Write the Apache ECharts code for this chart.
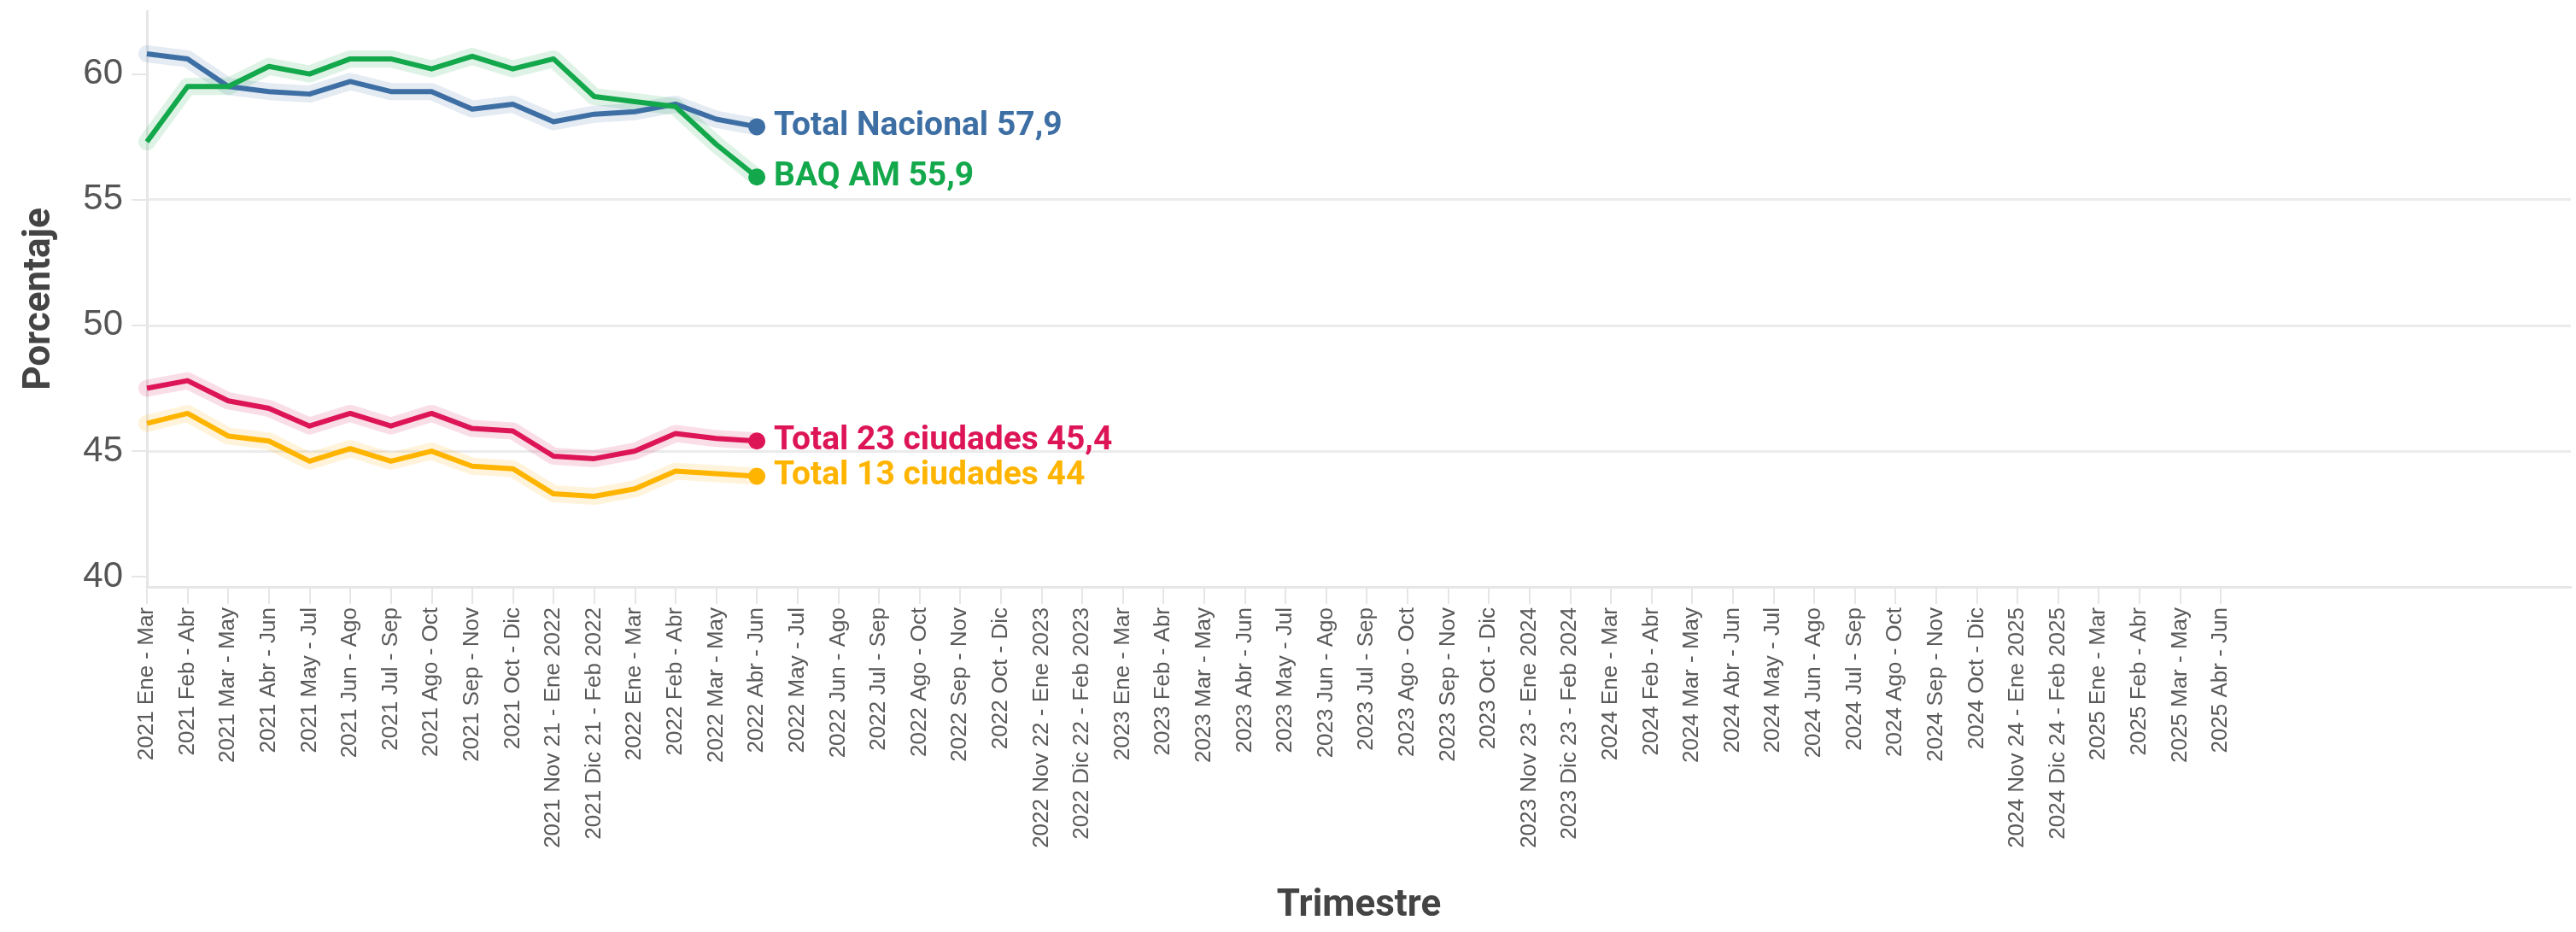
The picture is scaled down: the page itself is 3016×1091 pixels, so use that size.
<!DOCTYPE html>
<html>
<head>
<meta charset="utf-8">
<script src="https://cdn.jsdelivr.net/npm/echarts@6/dist/echarts.min.js"></script>
<style>
    html, body { margin: 0; padding: 0; background: #fff; }
    #main { width: 3016px; height: 1091px; }
</style>
</head>
<body>
<div id="main"></div>
<script>
// 类目：滚动三个月
var trimestres = [
    '2021 Ene - Mar', '2021 Feb - Abr', '2021 Mar - May', '2021 Abr - Jun', '2021 May - Jul', '2021 Jun - Ago',
    '2021 Jul - Sep', '2021 Ago - Oct', '2021 Sep - Nov', '2021 Oct - Dic', '2021 Nov 21 - Ene 2022', '2021 Dic 21 - Feb 2022',
    '2022 Ene - Mar', '2022 Feb - Abr', '2022 Mar - May', '2022 Abr - Jun', '2022 May - Jul', '2022 Jun - Ago',
    '2022 Jul - Sep', '2022 Ago - Oct', '2022 Sep - Nov', '2022 Oct - Dic', '2022 Nov 22 - Ene 2023', '2022 Dic 22 - Feb 2023',
    '2023 Ene - Mar', '2023 Feb - Abr', '2023 Mar - May', '2023 Abr - Jun', '2023 May - Jul', '2023 Jun - Ago',
    '2023 Jul - Sep', '2023 Ago - Oct', '2023 Sep - Nov', '2023 Oct - Dic', '2023 Nov 23 - Ene 2024', '2023 Dic 23 - Feb 2024',
    '2024 Ene - Mar', '2024 Feb - Abr', '2024 Mar - May', '2024 Abr - Jun', '2024 May - Jul', '2024 Jun - Ago',
    '2024 Jul - Sep', '2024 Ago - Oct', '2024 Sep - Nov', '2024 Oct - Dic', '2024 Nov 24 - Ene 2025', '2024 Dic 24 - Feb 2025',
    '2025 Ene - Mar', '2025 Feb - Abr', '2025 Mar - May', '2025 Abr - Jun'
];

// 各系列数值
var totalNacional = [60.8, 60.6, 59.5, 59.3, 59.2, 59.7, 59.3, 59.3, 58.6, 58.8, 58.1, 58.4, 58.5, 58.8, 58.2, 57.9];
var baqAm         = [57.3, 59.5, 59.5, 60.3, 60.0, 60.6, 60.6, 60.2, 60.7, 60.2, 60.6, 59.1, 58.9, 58.7, 57.2, 55.9];
var total23       = [47.5, 47.8, 47.0, 46.7, 46.0, 46.5, 46.0, 46.5, 45.9, 45.8, 44.8, 44.7, 45.0, 45.7, 45.5, 45.4];
var total13       = [46.1, 46.5, 45.6, 45.4, 44.6, 45.1, 44.6, 45.0, 44.4, 44.3, 43.3, 43.2, 43.5, 44.2, 44.1, 44.0];

// 纵轴刻度
var yTicks = [40, 45, 50, 55, 60];
var yMin = 39.6;
var yMax = 62.5;

(function () {
    var myChart = echarts.init(document.getElementById('main'));

    var lines = [
        { name: 'Total Nacional', data: totalNacional, color: '#3e6fa4' },
        { name: 'BAQ AM', data: baqAm, color: '#13a84b' },
        { name: 'Total 23 ciudades', data: total23, color: '#dd1557' },
        { name: 'Total 13 ciudades', data: total13, color: '#ffb400' }
    ];

    var series = [];
    // 先画浅色光晕
    lines.forEach(function (l) {
        series.push({
            name: l.name + ' halo',
            type: 'line',
            xAxisIndex: 1,
            yAxisIndex: 1,
            data: l.data,
            symbol: 'none',
            silent: true,
            z: 1,
            lineStyle: { color: l.color, width: 20, opacity: 0.14, cap: 'round', join: 'round' }
        });
    });
    // 主线 + 末端标签
    lines.forEach(function (l) {
        var last = l.data.length - 1;
        series.push({
            name: l.name,
            type: 'line',
            xAxisIndex: 1,
            yAxisIndex: 1,
            data: l.data,
            z: 3,
            symbol: 'circle',
            showSymbol: true,
            showAllSymbol: true,
            symbolSize: function (v, p) { return p.dataIndex === last ? 20 : 0; },
            itemStyle: { color: l.color },
            lineStyle: { color: l.color, width: 6, join: 'round' },
            endLabel: {
                show: true,
                distance: 20,
                color: l.color,
                fontFamily: 'Roboto',
                fontWeight: 'bold',
                fontSize: 39,
                formatter: function (p) {
                    return p.seriesName + ' ' + String(p.value).replace('.', ',');
                }
            }
        });
    });

    var option = {
        backgroundColor: '#fff',
        animation: false,
        grid: [
            { left: 172, right: 6, top: 13, bottom: 404 },
            { left: 172, right: 416, top: 13, bottom: 404 }
        ],
        xAxis: [
            {
                // 整宽底线 + 轴名
                type: 'value',
                gridIndex: 0,
                min: 0,
                max: 1,
                axisLine: { show: true, lineStyle: { color: '#e6e6e6', width: 3 } },
                axisTick: { show: false },
                axisLabel: { show: false },
                splitLine: { show: false },
                name: 'Trimestre',
                nameLocation: 'middle',
                nameGap: 352,
                nameTextStyle: { color: '#444', fontFamily: 'Roboto', fontWeight: 'bold', fontSize: 44 }
            },
            {
                type: 'category',
                gridIndex: 1,
                data: trimestres,
                boundaryGap: false,
                axisLine: { show: false },
                axisTick: { show: true, length: 20, lineStyle: { color: '#e6e6e6', width: 2 } },
                axisLabel: {
                    interval: 0,
                    rotate: 90,
                    margin: 24,
                    color: '#5a5a5a',
                    fontFamily: 'Liberation Sans',
                    fontSize: 26
                }
            }
        ],
        yAxis: [
            {
                type: 'value',
                gridIndex: 0,
                min: yMin,
                max: yMax,
                minInterval: 5,
                maxInterval: 5,
                axisLine: { show: true, lineStyle: { color: '#e6e6e6', width: 3 } },
                axisTick: { show: true, length: 18, customValues: yTicks, lineStyle: { color: '#e6e6e6', width: 2 } },
                axisLabel: {
                    customValues: yTicks,
                    margin: 28,
                    color: '#555',
                    fontFamily: 'Liberation Sans',
                    fontSize: 42
                },
                splitLine: {
                    show: true,
                    showMinLine: false,
                    showMaxLine: false,
                    lineStyle: { color: '#ebebeb', width: 3 }
                },
                name: 'Porcentaje',
                nameLocation: 'middle',
                nameGap: 103,
                nameTextStyle: { color: '#444', fontFamily: 'Roboto', fontWeight: 'bold', fontSize: 44 }
            },
            {
                type: 'value',
                gridIndex: 1,
                min: yMin,
                max: yMax,
                show: false
            }
        ],
        series: series
    };

    window.addEventListener('resize', function () {
        myChart.resize();
    });

    myChart.setOption(option);
})();
</script>
</body>
</html>
